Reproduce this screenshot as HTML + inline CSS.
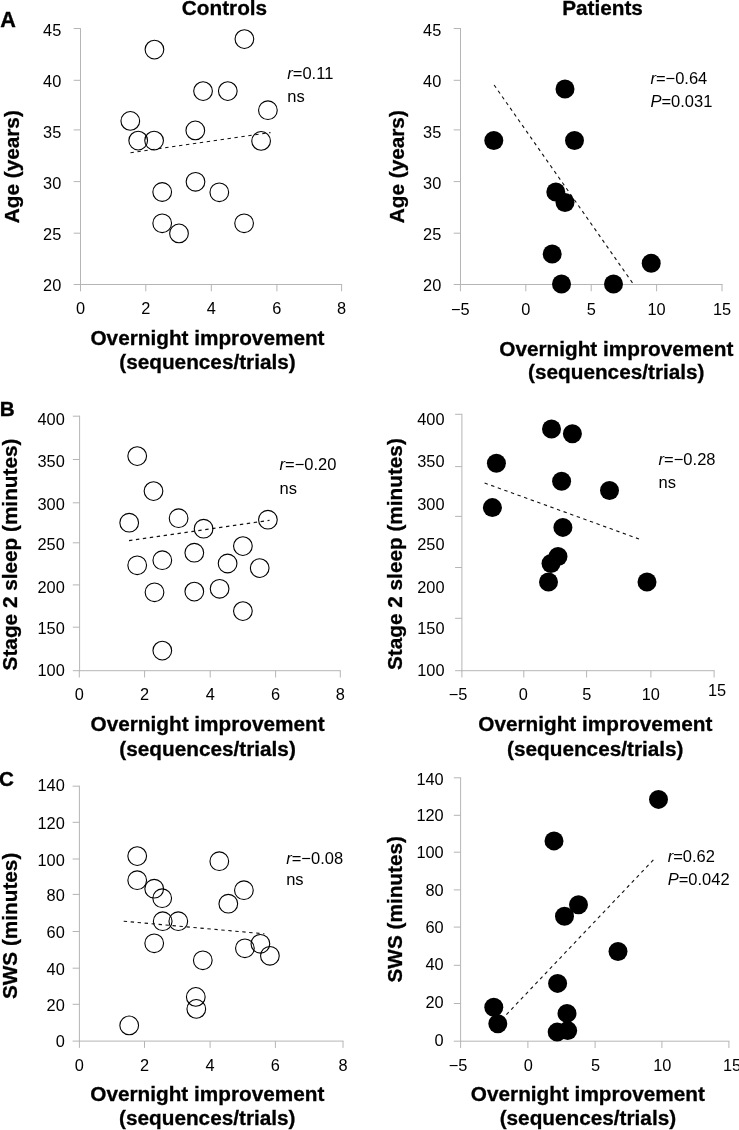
<!DOCTYPE html>
<html><head><meta charset="utf-8"><title>Figure</title>
<style>
html,body{margin:0;padding:0;background:#fff;}
svg{display:block;will-change:transform;font-family:"Liberation Sans",sans-serif;fill:#000;}
</style></head>
<body>
<svg width="739" height="1130" viewBox="0 0 739 1130">
<rect width="739" height="1130" fill="#fff"/>
<line x1="80.50" y1="28.30" x2="80.50" y2="285.00" stroke="#b5b5b5" stroke-width="1"/>
<line x1="80.00" y1="284.50" x2="342.10" y2="284.50" stroke="#b5b5b5" stroke-width="1"/>
<line x1="73.70" y1="28.50" x2="80.50" y2="28.50" stroke="#b5b5b5" stroke-width="1"/>
<line x1="73.70" y1="80.30" x2="80.50" y2="80.30" stroke="#b5b5b5" stroke-width="1"/>
<line x1="73.70" y1="129.90" x2="80.50" y2="129.90" stroke="#b5b5b5" stroke-width="1"/>
<line x1="73.70" y1="181.60" x2="80.50" y2="181.60" stroke="#b5b5b5" stroke-width="1"/>
<line x1="73.70" y1="233.20" x2="80.50" y2="233.20" stroke="#b5b5b5" stroke-width="1"/>
<line x1="73.70" y1="284.50" x2="80.50" y2="284.50" stroke="#b5b5b5" stroke-width="1"/>
<line x1="80.50" y1="284.50" x2="80.50" y2="291.30" stroke="#b5b5b5" stroke-width="1"/>
<line x1="145.80" y1="284.50" x2="145.80" y2="291.30" stroke="#b5b5b5" stroke-width="1"/>
<line x1="211.30" y1="284.50" x2="211.30" y2="291.30" stroke="#b5b5b5" stroke-width="1"/>
<line x1="276.90" y1="284.50" x2="276.90" y2="291.30" stroke="#b5b5b5" stroke-width="1"/>
<line x1="341.60" y1="284.50" x2="341.60" y2="291.30" stroke="#b5b5b5" stroke-width="1"/>
<text x="61.30" y="36.15" text-anchor="end" font-size="16.35">45</text>
<text x="61.30" y="86.75" text-anchor="end" font-size="16.35">40</text>
<text x="61.30" y="138.45" text-anchor="end" font-size="16.35">35</text>
<text x="61.30" y="189.15" text-anchor="end" font-size="16.35">30</text>
<text x="61.30" y="240.45" text-anchor="end" font-size="16.35">25</text>
<text x="61.30" y="290.55" text-anchor="end" font-size="16.35">20</text>
<text x="80.50" y="314.00" text-anchor="middle" font-size="16.35">0</text>
<text x="145.80" y="314.00" text-anchor="middle" font-size="16.35">2</text>
<text x="211.30" y="314.00" text-anchor="middle" font-size="16.35">4</text>
<text x="276.90" y="314.00" text-anchor="middle" font-size="16.35">6</text>
<text x="341.60" y="314.00" text-anchor="middle" font-size="16.35">8</text>
<line x1="130.50" y1="152.70" x2="270.50" y2="132.60" stroke="#111" stroke-width="1.12" stroke-dasharray="3.4 3.6"/>
<circle cx="154.45" cy="49.60" r="9.35" fill="none" stroke="#000" stroke-width="1.1"/>
<circle cx="244.40" cy="39.10" r="9.35" fill="none" stroke="#000" stroke-width="1.1"/>
<circle cx="203.05" cy="91.10" r="9.35" fill="none" stroke="#000" stroke-width="1.1"/>
<circle cx="227.80" cy="91.10" r="9.35" fill="none" stroke="#000" stroke-width="1.1"/>
<circle cx="130.30" cy="120.90" r="9.35" fill="none" stroke="#000" stroke-width="1.1"/>
<circle cx="267.90" cy="110.20" r="9.35" fill="none" stroke="#000" stroke-width="1.1"/>
<circle cx="138.20" cy="140.60" r="9.35" fill="none" stroke="#000" stroke-width="1.1"/>
<circle cx="154.10" cy="140.60" r="9.35" fill="none" stroke="#000" stroke-width="1.1"/>
<circle cx="195.30" cy="130.40" r="9.35" fill="none" stroke="#000" stroke-width="1.1"/>
<circle cx="261.10" cy="140.90" r="9.35" fill="none" stroke="#000" stroke-width="1.1"/>
<circle cx="162.20" cy="192.00" r="9.35" fill="none" stroke="#000" stroke-width="1.1"/>
<circle cx="195.50" cy="181.80" r="9.35" fill="none" stroke="#000" stroke-width="1.1"/>
<circle cx="219.30" cy="192.30" r="9.35" fill="none" stroke="#000" stroke-width="1.1"/>
<circle cx="162.20" cy="223.30" r="9.35" fill="none" stroke="#000" stroke-width="1.1"/>
<circle cx="179.00" cy="233.40" r="9.35" fill="none" stroke="#000" stroke-width="1.1"/>
<circle cx="244.10" cy="223.30" r="9.35" fill="none" stroke="#000" stroke-width="1.1"/>
<text x="287.30" y="78.70" font-size="16.5"><tspan font-style="italic">r</tspan>=0.11</text>
<text x="287.30" y="102.00" font-size="16.5">ns</text>
<text x="207.50" y="344.70" text-anchor="middle" font-size="20.75" font-weight="bold" stroke="#000" stroke-width="0.3">Overnight improvement</text>
<text x="207.50" y="369.30" text-anchor="middle" font-size="20.75" font-weight="bold" stroke="#000" stroke-width="0.3">(sequences/trials)</text>
<text transform="translate(19.20,166.70) rotate(-90)" text-anchor="middle" font-size="20.75" font-weight="bold" stroke="#000" stroke-width="0.3">Age (years)</text>
<line x1="460.50" y1="28.00" x2="460.50" y2="285.00" stroke="#b5b5b5" stroke-width="1"/>
<line x1="460.00" y1="284.50" x2="722.50" y2="284.50" stroke="#b5b5b5" stroke-width="1"/>
<line x1="453.70" y1="28.50" x2="460.50" y2="28.50" stroke="#b5b5b5" stroke-width="1"/>
<line x1="453.70" y1="80.30" x2="460.50" y2="80.30" stroke="#b5b5b5" stroke-width="1"/>
<line x1="453.70" y1="129.90" x2="460.50" y2="129.90" stroke="#b5b5b5" stroke-width="1"/>
<line x1="453.70" y1="181.60" x2="460.50" y2="181.60" stroke="#b5b5b5" stroke-width="1"/>
<line x1="453.70" y1="233.20" x2="460.50" y2="233.20" stroke="#b5b5b5" stroke-width="1"/>
<line x1="453.70" y1="284.50" x2="460.50" y2="284.50" stroke="#b5b5b5" stroke-width="1"/>
<line x1="460.40" y1="284.50" x2="460.40" y2="291.30" stroke="#b5b5b5" stroke-width="1"/>
<line x1="525.80" y1="284.50" x2="525.80" y2="291.30" stroke="#b5b5b5" stroke-width="1"/>
<line x1="591.20" y1="284.50" x2="591.20" y2="291.30" stroke="#b5b5b5" stroke-width="1"/>
<line x1="656.60" y1="284.50" x2="656.60" y2="291.30" stroke="#b5b5b5" stroke-width="1"/>
<line x1="722.00" y1="284.50" x2="722.00" y2="291.30" stroke="#b5b5b5" stroke-width="1"/>
<text x="441.30" y="36.15" text-anchor="end" font-size="16.35">45</text>
<text x="441.30" y="86.75" text-anchor="end" font-size="16.35">40</text>
<text x="441.30" y="138.45" text-anchor="end" font-size="16.35">35</text>
<text x="441.30" y="189.15" text-anchor="end" font-size="16.35">30</text>
<text x="441.30" y="240.45" text-anchor="end" font-size="16.35">25</text>
<text x="441.30" y="290.55" text-anchor="end" font-size="16.35">20</text>
<text x="460.40" y="315.00" text-anchor="middle" font-size="16.35">−5</text>
<text x="525.80" y="315.00" text-anchor="middle" font-size="16.35">0</text>
<text x="591.20" y="315.00" text-anchor="middle" font-size="16.35">5</text>
<text x="656.60" y="315.00" text-anchor="middle" font-size="16.35">10</text>
<text x="722.00" y="315.00" text-anchor="middle" font-size="16.35">15</text>
<line x1="494.10" y1="85.00" x2="634.00" y2="285.00" stroke="#111" stroke-width="1.12" stroke-dasharray="3.4 3.6"/>
<circle cx="493.80" cy="140.50" r="9.5" fill="#000"/>
<circle cx="565.00" cy="89.00" r="9.5" fill="#000"/>
<circle cx="574.50" cy="140.50" r="9.5" fill="#000"/>
<circle cx="555.80" cy="192.00" r="9.5" fill="#000"/>
<circle cx="565.00" cy="202.50" r="9.5" fill="#000"/>
<circle cx="552.20" cy="254.00" r="9.5" fill="#000"/>
<circle cx="561.50" cy="284.00" r="9.5" fill="#000"/>
<circle cx="613.50" cy="284.00" r="9.5" fill="#000"/>
<circle cx="651.20" cy="263.30" r="9.5" fill="#000"/>
<text x="650.40" y="84.40" font-size="16.5"><tspan font-style="italic">r</tspan>=−0.64</text>
<text x="650.40" y="106.90" font-size="16.5"><tspan font-style="italic">P</tspan>=0.031</text>
<text x="616.30" y="355.60" text-anchor="middle" font-size="20.75" font-weight="bold" stroke="#000" stroke-width="0.3">Overnight improvement</text>
<text x="616.30" y="379.20" text-anchor="middle" font-size="20.75" font-weight="bold" stroke="#000" stroke-width="0.3">(sequences/trials)</text>
<text transform="translate(403.50,166.70) rotate(-90)" text-anchor="middle" font-size="20.75" font-weight="bold" stroke="#000" stroke-width="0.3">Age (years)</text>
<line x1="79.60" y1="415.70" x2="79.60" y2="671.20" stroke="#b5b5b5" stroke-width="1"/>
<line x1="79.10" y1="670.70" x2="340.80" y2="670.70" stroke="#b5b5b5" stroke-width="1"/>
<line x1="72.80" y1="416.20" x2="79.60" y2="416.20" stroke="#b5b5b5" stroke-width="1"/>
<line x1="72.80" y1="459.50" x2="79.60" y2="459.50" stroke="#b5b5b5" stroke-width="1"/>
<line x1="72.80" y1="502.80" x2="79.60" y2="502.80" stroke="#b5b5b5" stroke-width="1"/>
<line x1="72.80" y1="542.80" x2="79.60" y2="542.80" stroke="#b5b5b5" stroke-width="1"/>
<line x1="72.80" y1="584.90" x2="79.60" y2="584.90" stroke="#b5b5b5" stroke-width="1"/>
<line x1="72.80" y1="627.20" x2="79.60" y2="627.20" stroke="#b5b5b5" stroke-width="1"/>
<line x1="72.80" y1="670.70" x2="79.60" y2="670.70" stroke="#b5b5b5" stroke-width="1"/>
<line x1="79.30" y1="670.70" x2="79.30" y2="677.50" stroke="#b5b5b5" stroke-width="1"/>
<line x1="144.60" y1="670.70" x2="144.60" y2="677.50" stroke="#b5b5b5" stroke-width="1"/>
<line x1="210.20" y1="670.70" x2="210.20" y2="677.50" stroke="#b5b5b5" stroke-width="1"/>
<line x1="275.60" y1="670.70" x2="275.60" y2="677.50" stroke="#b5b5b5" stroke-width="1"/>
<line x1="340.30" y1="670.70" x2="340.30" y2="677.50" stroke="#b5b5b5" stroke-width="1"/>
<text x="64.80" y="424.85" text-anchor="end" font-size="16.35">400</text>
<text x="64.80" y="466.85" text-anchor="end" font-size="16.35">350</text>
<text x="64.80" y="509.55" text-anchor="end" font-size="16.35">300</text>
<text x="64.80" y="550.45" text-anchor="end" font-size="16.35">250</text>
<text x="64.80" y="592.85" text-anchor="end" font-size="16.35">200</text>
<text x="64.80" y="634.25" text-anchor="end" font-size="16.35">150</text>
<text x="64.80" y="676.25" text-anchor="end" font-size="16.35">100</text>
<text x="79.30" y="699.80" text-anchor="middle" font-size="16.35">0</text>
<text x="144.60" y="699.80" text-anchor="middle" font-size="16.35">2</text>
<text x="210.20" y="699.80" text-anchor="middle" font-size="16.35">4</text>
<text x="275.60" y="699.80" text-anchor="middle" font-size="16.35">6</text>
<text x="340.30" y="699.80" text-anchor="middle" font-size="16.35">8</text>
<line x1="129.00" y1="540.60" x2="269.60" y2="520.30" stroke="#111" stroke-width="1.12" stroke-dasharray="3.4 3.6"/>
<circle cx="137.20" cy="456.10" r="9.35" fill="none" stroke="#000" stroke-width="1.1"/>
<circle cx="153.50" cy="491.10" r="9.35" fill="none" stroke="#000" stroke-width="1.1"/>
<circle cx="129.20" cy="522.70" r="9.35" fill="none" stroke="#000" stroke-width="1.1"/>
<circle cx="178.60" cy="518.20" r="9.35" fill="none" stroke="#000" stroke-width="1.1"/>
<circle cx="203.60" cy="528.70" r="9.35" fill="none" stroke="#000" stroke-width="1.1"/>
<circle cx="267.90" cy="519.70" r="9.35" fill="none" stroke="#000" stroke-width="1.1"/>
<circle cx="194.30" cy="552.70" r="9.35" fill="none" stroke="#000" stroke-width="1.1"/>
<circle cx="242.90" cy="546.10" r="9.35" fill="none" stroke="#000" stroke-width="1.1"/>
<circle cx="137.20" cy="565.30" r="9.35" fill="none" stroke="#000" stroke-width="1.1"/>
<circle cx="162.30" cy="560.20" r="9.35" fill="none" stroke="#000" stroke-width="1.1"/>
<circle cx="227.60" cy="563.50" r="9.35" fill="none" stroke="#000" stroke-width="1.1"/>
<circle cx="259.70" cy="568.10" r="9.35" fill="none" stroke="#000" stroke-width="1.1"/>
<circle cx="154.50" cy="592.30" r="9.35" fill="none" stroke="#000" stroke-width="1.1"/>
<circle cx="194.30" cy="591.60" r="9.35" fill="none" stroke="#000" stroke-width="1.1"/>
<circle cx="219.60" cy="588.80" r="9.35" fill="none" stroke="#000" stroke-width="1.1"/>
<circle cx="242.90" cy="611.10" r="9.35" fill="none" stroke="#000" stroke-width="1.1"/>
<circle cx="162.30" cy="650.60" r="9.35" fill="none" stroke="#000" stroke-width="1.1"/>
<text x="279.50" y="470.30" font-size="16.5"><tspan font-style="italic">r</tspan>=−0.20</text>
<text x="279.50" y="494.10" font-size="16.5">ns</text>
<text x="207.60" y="730.50" text-anchor="middle" font-size="20.75" font-weight="bold" stroke="#000" stroke-width="0.3">Overnight improvement</text>
<text x="207.60" y="755.50" text-anchor="middle" font-size="20.75" font-weight="bold" stroke="#000" stroke-width="0.3">(sequences/trials)</text>
<text transform="translate(17.30,554.50) rotate(-90)" text-anchor="middle" font-size="20.75" font-weight="bold" stroke="#000" stroke-width="0.3">Stage 2 sleep (minutes)</text>
<line x1="461.90" y1="413.80" x2="461.90" y2="671.20" stroke="#b5b5b5" stroke-width="1"/>
<line x1="461.40" y1="670.70" x2="714.60" y2="670.70" stroke="#b5b5b5" stroke-width="1"/>
<line x1="455.10" y1="414.30" x2="461.90" y2="414.30" stroke="#b5b5b5" stroke-width="1"/>
<line x1="455.10" y1="466.60" x2="461.90" y2="466.60" stroke="#b5b5b5" stroke-width="1"/>
<line x1="455.10" y1="516.40" x2="461.90" y2="516.40" stroke="#b5b5b5" stroke-width="1"/>
<line x1="455.10" y1="567.50" x2="461.90" y2="567.50" stroke="#b5b5b5" stroke-width="1"/>
<line x1="455.10" y1="618.30" x2="461.90" y2="618.30" stroke="#b5b5b5" stroke-width="1"/>
<line x1="455.10" y1="670.70" x2="461.90" y2="670.70" stroke="#b5b5b5" stroke-width="1"/>
<line x1="461.90" y1="670.70" x2="461.90" y2="677.50" stroke="#b5b5b5" stroke-width="1"/>
<line x1="523.80" y1="670.70" x2="523.80" y2="677.50" stroke="#b5b5b5" stroke-width="1"/>
<line x1="586.60" y1="670.70" x2="586.60" y2="677.50" stroke="#b5b5b5" stroke-width="1"/>
<line x1="650.90" y1="670.70" x2="650.90" y2="677.50" stroke="#b5b5b5" stroke-width="1"/>
<line x1="714.10" y1="670.70" x2="714.10" y2="677.50" stroke="#b5b5b5" stroke-width="1"/>
<text x="444.50" y="425.05" text-anchor="end" font-size="16.35">400</text>
<text x="444.50" y="466.85" text-anchor="end" font-size="16.35">350</text>
<text x="444.50" y="509.55" text-anchor="end" font-size="16.35">300</text>
<text x="444.50" y="550.45" text-anchor="end" font-size="16.35">250</text>
<text x="444.50" y="592.85" text-anchor="end" font-size="16.35">200</text>
<text x="444.50" y="634.25" text-anchor="end" font-size="16.35">150</text>
<text x="444.50" y="676.25" text-anchor="end" font-size="16.35">100</text>
<text x="458.00" y="699.80" text-anchor="middle" font-size="16.35">−5</text>
<text x="523.30" y="699.80" text-anchor="middle" font-size="16.35">0</text>
<text x="586.80" y="699.80" text-anchor="middle" font-size="16.35">5</text>
<text x="650.80" y="699.80" text-anchor="middle" font-size="16.35">10</text>
<text x="717.00" y="696.20" text-anchor="middle" font-size="16.35">15</text>
<line x1="484.60" y1="483.00" x2="639.00" y2="539.00" stroke="#111" stroke-width="1.12" stroke-dasharray="3.4 3.6"/>
<circle cx="551.50" cy="429.00" r="9.5" fill="#000"/>
<circle cx="572.40" cy="433.70" r="9.5" fill="#000"/>
<circle cx="496.40" cy="463.30" r="9.5" fill="#000"/>
<circle cx="561.60" cy="481.20" r="9.5" fill="#000"/>
<circle cx="609.50" cy="490.50" r="9.5" fill="#000"/>
<circle cx="492.40" cy="507.60" r="9.5" fill="#000"/>
<circle cx="562.90" cy="527.40" r="9.5" fill="#000"/>
<circle cx="558.00" cy="556.50" r="9.5" fill="#000"/>
<circle cx="551.00" cy="563.50" r="9.5" fill="#000"/>
<circle cx="548.50" cy="582.00" r="9.5" fill="#000"/>
<circle cx="647.00" cy="582.00" r="9.5" fill="#000"/>
<text x="658.60" y="465.00" font-size="16.5"><tspan font-style="italic">r</tspan>=−0.28</text>
<text x="658.60" y="487.50" font-size="16.5">ns</text>
<text x="595.30" y="730.80" text-anchor="middle" font-size="20.75" font-weight="bold" stroke="#000" stroke-width="0.3">Overnight improvement</text>
<text x="595.30" y="755.50" text-anchor="middle" font-size="20.75" font-weight="bold" stroke="#000" stroke-width="0.3">(sequences/trials)</text>
<text transform="translate(402.30,554.10) rotate(-90)" text-anchor="middle" font-size="20.75" font-weight="bold" stroke="#000" stroke-width="0.3">Stage 2 sleep (minutes)</text>
<line x1="79.40" y1="785.70" x2="79.40" y2="1041.60" stroke="#b5b5b5" stroke-width="1"/>
<line x1="78.90" y1="1041.10" x2="343.50" y2="1041.10" stroke="#b5b5b5" stroke-width="1"/>
<line x1="72.60" y1="786.20" x2="79.40" y2="786.20" stroke="#b5b5b5" stroke-width="1"/>
<line x1="72.60" y1="822.30" x2="79.40" y2="822.30" stroke="#b5b5b5" stroke-width="1"/>
<line x1="72.60" y1="859.00" x2="79.40" y2="859.00" stroke="#b5b5b5" stroke-width="1"/>
<line x1="72.60" y1="894.40" x2="79.40" y2="894.40" stroke="#b5b5b5" stroke-width="1"/>
<line x1="72.60" y1="931.50" x2="79.40" y2="931.50" stroke="#b5b5b5" stroke-width="1"/>
<line x1="72.60" y1="968.20" x2="79.40" y2="968.20" stroke="#b5b5b5" stroke-width="1"/>
<line x1="72.60" y1="1004.30" x2="79.40" y2="1004.30" stroke="#b5b5b5" stroke-width="1"/>
<line x1="72.60" y1="1041.10" x2="79.40" y2="1041.10" stroke="#b5b5b5" stroke-width="1"/>
<line x1="79.40" y1="1041.10" x2="79.40" y2="1047.90" stroke="#b5b5b5" stroke-width="1"/>
<line x1="144.50" y1="1041.10" x2="144.50" y2="1047.90" stroke="#b5b5b5" stroke-width="1"/>
<line x1="210.10" y1="1041.10" x2="210.10" y2="1047.90" stroke="#b5b5b5" stroke-width="1"/>
<line x1="275.40" y1="1041.10" x2="275.40" y2="1047.90" stroke="#b5b5b5" stroke-width="1"/>
<line x1="343.00" y1="1041.10" x2="343.00" y2="1047.90" stroke="#b5b5b5" stroke-width="1"/>
<text x="64.80" y="791.05" text-anchor="end" font-size="16.35">140</text>
<text x="64.80" y="828.85" text-anchor="end" font-size="16.35">120</text>
<text x="64.80" y="865.55" text-anchor="end" font-size="16.35">100</text>
<text x="64.80" y="901.25" text-anchor="end" font-size="16.35">80</text>
<text x="64.80" y="938.25" text-anchor="end" font-size="16.35">60</text>
<text x="64.80" y="974.85" text-anchor="end" font-size="16.35">40</text>
<text x="64.80" y="1011.05" text-anchor="end" font-size="16.35">20</text>
<text x="64.80" y="1046.65" text-anchor="end" font-size="16.35">0</text>
<text x="79.40" y="1071.00" text-anchor="middle" font-size="16.35">0</text>
<text x="144.50" y="1071.00" text-anchor="middle" font-size="16.35">2</text>
<text x="210.10" y="1071.00" text-anchor="middle" font-size="16.35">4</text>
<text x="275.40" y="1071.00" text-anchor="middle" font-size="16.35">6</text>
<text x="343.00" y="1071.00" text-anchor="middle" font-size="16.35">8</text>
<line x1="123.70" y1="921.20" x2="264.40" y2="933.80" stroke="#111" stroke-width="1.12" stroke-dasharray="3.4 3.6"/>
<circle cx="137.20" cy="856.10" r="9.35" fill="none" stroke="#000" stroke-width="1.1"/>
<circle cx="137.20" cy="880.20" r="9.35" fill="none" stroke="#000" stroke-width="1.1"/>
<circle cx="154.20" cy="888.70" r="9.35" fill="none" stroke="#000" stroke-width="1.1"/>
<circle cx="162.20" cy="898.20" r="9.35" fill="none" stroke="#000" stroke-width="1.1"/>
<circle cx="162.70" cy="921.20" r="9.35" fill="none" stroke="#000" stroke-width="1.1"/>
<circle cx="178.30" cy="921.20" r="9.35" fill="none" stroke="#000" stroke-width="1.1"/>
<circle cx="154.20" cy="943.30" r="9.35" fill="none" stroke="#000" stroke-width="1.1"/>
<circle cx="219.30" cy="861.20" r="9.35" fill="none" stroke="#000" stroke-width="1.1"/>
<circle cx="243.90" cy="890.20" r="9.35" fill="none" stroke="#000" stroke-width="1.1"/>
<circle cx="228.30" cy="903.70" r="9.35" fill="none" stroke="#000" stroke-width="1.1"/>
<circle cx="202.80" cy="960.30" r="9.35" fill="none" stroke="#000" stroke-width="1.1"/>
<circle cx="244.90" cy="948.30" r="9.35" fill="none" stroke="#000" stroke-width="1.1"/>
<circle cx="260.40" cy="943.80" r="9.35" fill="none" stroke="#000" stroke-width="1.1"/>
<circle cx="269.90" cy="955.80" r="9.35" fill="none" stroke="#000" stroke-width="1.1"/>
<circle cx="195.80" cy="996.90" r="9.35" fill="none" stroke="#000" stroke-width="1.1"/>
<circle cx="196.30" cy="1008.90" r="9.35" fill="none" stroke="#000" stroke-width="1.1"/>
<circle cx="129.20" cy="1025.40" r="9.35" fill="none" stroke="#000" stroke-width="1.1"/>
<text x="286.20" y="863.70" font-size="16.5"><tspan font-style="italic">r</tspan>=−0.08</text>
<text x="286.20" y="885.40" font-size="16.5">ns</text>
<text x="207.30" y="1100.80" text-anchor="middle" font-size="20.75" font-weight="bold" stroke="#000" stroke-width="0.3">Overnight improvement</text>
<text x="207.30" y="1124.50" text-anchor="middle" font-size="20.75" font-weight="bold" stroke="#000" stroke-width="0.3">(sequences/trials)</text>
<text transform="translate(17.00,925.90) rotate(-90)" text-anchor="middle" font-size="20.75" font-weight="bold" stroke="#000" stroke-width="0.3">SWS (minutes)</text>
<line x1="460.60" y1="777.30" x2="460.60" y2="1041.70" stroke="#b5b5b5" stroke-width="1"/>
<line x1="460.10" y1="1041.20" x2="729.40" y2="1041.20" stroke="#b5b5b5" stroke-width="1"/>
<line x1="453.80" y1="777.80" x2="460.60" y2="777.80" stroke="#b5b5b5" stroke-width="1"/>
<line x1="453.80" y1="815.30" x2="460.60" y2="815.30" stroke="#b5b5b5" stroke-width="1"/>
<line x1="453.80" y1="852.20" x2="460.60" y2="852.20" stroke="#b5b5b5" stroke-width="1"/>
<line x1="453.80" y1="889.90" x2="460.60" y2="889.90" stroke="#b5b5b5" stroke-width="1"/>
<line x1="453.80" y1="927.10" x2="460.60" y2="927.10" stroke="#b5b5b5" stroke-width="1"/>
<line x1="453.80" y1="965.30" x2="460.60" y2="965.30" stroke="#b5b5b5" stroke-width="1"/>
<line x1="453.80" y1="1003.50" x2="460.60" y2="1003.50" stroke="#b5b5b5" stroke-width="1"/>
<line x1="453.80" y1="1041.20" x2="460.60" y2="1041.20" stroke="#b5b5b5" stroke-width="1"/>
<line x1="460.60" y1="1041.20" x2="460.60" y2="1048.00" stroke="#b5b5b5" stroke-width="1"/>
<line x1="527.90" y1="1041.20" x2="527.90" y2="1048.00" stroke="#b5b5b5" stroke-width="1"/>
<line x1="595.10" y1="1041.20" x2="595.10" y2="1048.00" stroke="#b5b5b5" stroke-width="1"/>
<line x1="661.90" y1="1041.20" x2="661.90" y2="1048.00" stroke="#b5b5b5" stroke-width="1"/>
<line x1="728.90" y1="1041.20" x2="728.90" y2="1048.00" stroke="#b5b5b5" stroke-width="1"/>
<text x="443.70" y="785.35" text-anchor="end" font-size="16.35">140</text>
<text x="443.70" y="821.45" text-anchor="end" font-size="16.35">120</text>
<text x="443.70" y="857.95" text-anchor="end" font-size="16.35">100</text>
<text x="443.70" y="895.55" text-anchor="end" font-size="16.35">80</text>
<text x="443.70" y="932.85" text-anchor="end" font-size="16.35">60</text>
<text x="443.70" y="970.05" text-anchor="end" font-size="16.35">40</text>
<text x="443.70" y="1008.25" text-anchor="end" font-size="16.35">20</text>
<text x="443.70" y="1046.45" text-anchor="end" font-size="16.35">0</text>
<text x="458.10" y="1070.80" text-anchor="middle" font-size="16.35">−5</text>
<text x="528.20" y="1070.80" text-anchor="middle" font-size="16.35">0</text>
<text x="595.50" y="1070.80" text-anchor="middle" font-size="16.35">5</text>
<text x="662.30" y="1070.80" text-anchor="middle" font-size="16.35">10</text>
<text x="732.00" y="1070.50" text-anchor="middle" font-size="16.35">15</text>
<line x1="506.40" y1="1014.60" x2="655.70" y2="857.40" stroke="#111" stroke-width="1.12" stroke-dasharray="3.4 3.6"/>
<circle cx="658.50" cy="799.40" r="9.5" fill="#000"/>
<circle cx="554.00" cy="840.90" r="9.5" fill="#000"/>
<circle cx="578.50" cy="904.80" r="9.5" fill="#000"/>
<circle cx="564.50" cy="916.30" r="9.5" fill="#000"/>
<circle cx="618.00" cy="951.50" r="9.5" fill="#000"/>
<circle cx="557.60" cy="983.40" r="9.5" fill="#000"/>
<circle cx="493.80" cy="1007.20" r="9.5" fill="#000"/>
<circle cx="497.80" cy="1023.80" r="9.5" fill="#000"/>
<circle cx="567.00" cy="1013.40" r="9.5" fill="#000"/>
<circle cx="557.20" cy="1032.10" r="9.5" fill="#000"/>
<circle cx="567.70" cy="1030.60" r="9.5" fill="#000"/>
<text x="667.70" y="861.85" font-size="16.5"><tspan font-style="italic">r</tspan>=0.62</text>
<text x="667.70" y="884.60" font-size="16.5"><tspan font-style="italic">P</tspan>=0.042</text>
<text x="587.90" y="1100.80" text-anchor="middle" font-size="20.75" font-weight="bold" stroke="#000" stroke-width="0.3">Overnight improvement</text>
<text x="587.90" y="1124.50" text-anchor="middle" font-size="20.75" font-weight="bold" stroke="#000" stroke-width="0.3">(sequences/trials)</text>
<text transform="translate(401.90,909.30) rotate(-90)" text-anchor="middle" font-size="20.75" font-weight="bold" stroke="#000" stroke-width="0.3">SWS (minutes)</text>
<text x="224.50" y="15.00" text-anchor="middle" font-size="20.75" font-weight="bold" stroke="#000" stroke-width="0.3">Controls</text>
<text x="602.50" y="15.00" text-anchor="middle" font-size="20.75" font-weight="bold" stroke="#000" stroke-width="0.3">Patients</text>
<text transform="translate(0.2,26.8) scale(1,1)" font-size="21.6" font-weight="bold" stroke="#000" stroke-width="0.35">A</text>
<text transform="translate(-0.3,415.5) scale(1,1)" font-size="20.7" font-weight="bold" stroke="#000" stroke-width="0.35">B</text>
<text transform="translate(-0.9,786.0) scale(1,1)" font-size="20.6" font-weight="bold" stroke="#000" stroke-width="0.35">C</text>
</svg>
</body></html>
